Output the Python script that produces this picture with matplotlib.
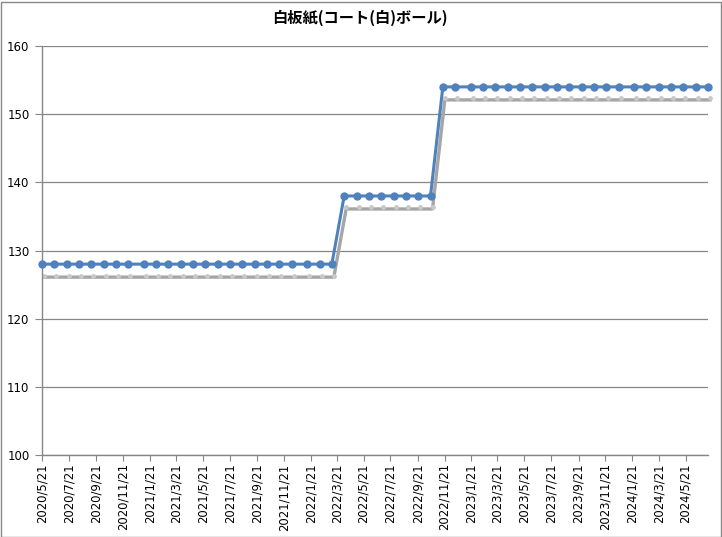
import matplotlib
matplotlib.use("Agg")
import matplotlib.pyplot as plt
import matplotlib.transforms as mtransforms
from matplotlib.patches import Rectangle
import pandas as pd

plt.rcParams['font.family'] = ['Noto Sans CJK JP', 'DejaVu Sans']

# survey dates (every 4 weeks, Thursdays) and price index
dates = ["2020-05-21", "2020-06-18", "2020-07-16", "2020-08-13", "2020-09-10", "2020-10-08",
         "2020-11-05", "2020-12-03", "2021-01-07", "2021-02-04", "2021-03-04", "2021-04-01",
         "2021-04-29", "2021-05-27", "2021-06-24", "2021-07-22", "2021-08-19", "2021-09-16",
         "2021-10-14", "2021-11-11", "2021-12-09", "2022-01-13", "2022-02-10", "2022-03-10",
         "2022-04-07", "2022-05-05", "2022-06-02", "2022-06-30", "2022-07-28", "2022-08-25",
         "2022-09-22", "2022-10-20", "2022-11-17", "2022-12-15", "2023-01-19", "2023-02-16",
         "2023-03-16", "2023-04-13", "2023-05-11", "2023-06-08", "2023-07-06", "2023-08-03",
         "2023-08-31", "2023-09-28", "2023-10-26", "2023-11-23", "2023-12-21", "2024-01-25",
         "2024-02-22", "2024-03-21", "2024-04-18", "2024-05-16", "2024-06-13", "2024-07-11"]
prices = [128] * 24 + [138] * 8 + [154] * 22

tick_dates = ["2020-05-21", "2020-07-21", "2020-09-21", "2020-11-21", "2021-01-21", "2021-03-21",
              "2021-05-21", "2021-07-21", "2021-09-21", "2021-11-21", "2022-01-21", "2022-03-21",
              "2022-05-21", "2022-07-21", "2022-09-21", "2022-11-21", "2023-01-21", "2023-03-21",
              "2023-05-21", "2023-07-21", "2023-09-21", "2023-11-21", "2024-01-21", "2024-03-21",
              "2024-05-21"]
y_ticks = [100, 110, 120, 130, 140, 150, 160]

title = "白板紙(コート(白)ボール)"

x = pd.to_datetime(dates)
xt = pd.to_datetime(tick_dates)
xt_labels = [f"{d.year}/{d.month}/{d.day}" for d in xt]

fig = plt.figure(figsize=(7.22, 5.37), dpi=100)
ax = fig.add_axes([42 / 722, 82 / 537, 666 / 722, 409 / 537])

# outer frame of the chart area
fig.patches.append(Rectangle((0.5 / 722, 0.5 / 537), 720 / 722, 535 / 537, transform=fig.transFigure,
                             fill=False, edgecolor="#888888", linewidth=1.0))

grid_c = "#868686"

# drop shadow of the series
shadow = ax.transData + mtransforms.ScaledTranslation(2 / 100, -13 / 100, fig.dpi_scale_trans)
ax.plot(x, prices, color="#a6a6a6", lw=2.4, transform=shadow, clip_on=False, zorder=2)
ax.plot(x, prices, ls="none", marker="o", ms=3.5, mfc="#c8c8c8", mec="none",
        transform=shadow + mtransforms.ScaledTranslation(0, 1.5 / 100, fig.dpi_scale_trans),
        clip_on=False, zorder=2)

ax.plot(x, prices, color="#4f81bd", lw=2.2, marker="o", ms=5, mfc="#4f81bd", mec="#4f81bd",
        clip_on=False, zorder=3)

ax.set_xlim(x[0], x[-1])
ax.set_ylim(100, 160)
ax.set_yticks(y_ticks)
ax.set_xticks(xt)
ax.set_xticklabels(xt_labels, rotation=90, ha="center", va="top")
ax.tick_params(axis="x", labelsize=8.4, length=4, color=grid_c, pad=2)
ax.tick_params(axis="y", labelsize=8.5, length=5, color=grid_c, pad=4)
for lab in ax.get_xticklabels() + ax.get_yticklabels():
    lab.set_family("DejaVu Sans")

ax.yaxis.grid(True, color=grid_c, lw=0.9)
ax.set_axisbelow(True)
for s in ["top", "right"]:
    ax.spines[s].set_visible(False)
for s in ["left", "bottom"]:
    ax.spines[s].set_color(grid_c)
    ax.spines[s].set_linewidth(1.0)

fig.text(360 / 722, 1 - 18 / 537, title, ha="center", va="center", fontsize=11, fontweight="bold")

fig.savefig("out.png", dpi=100)
